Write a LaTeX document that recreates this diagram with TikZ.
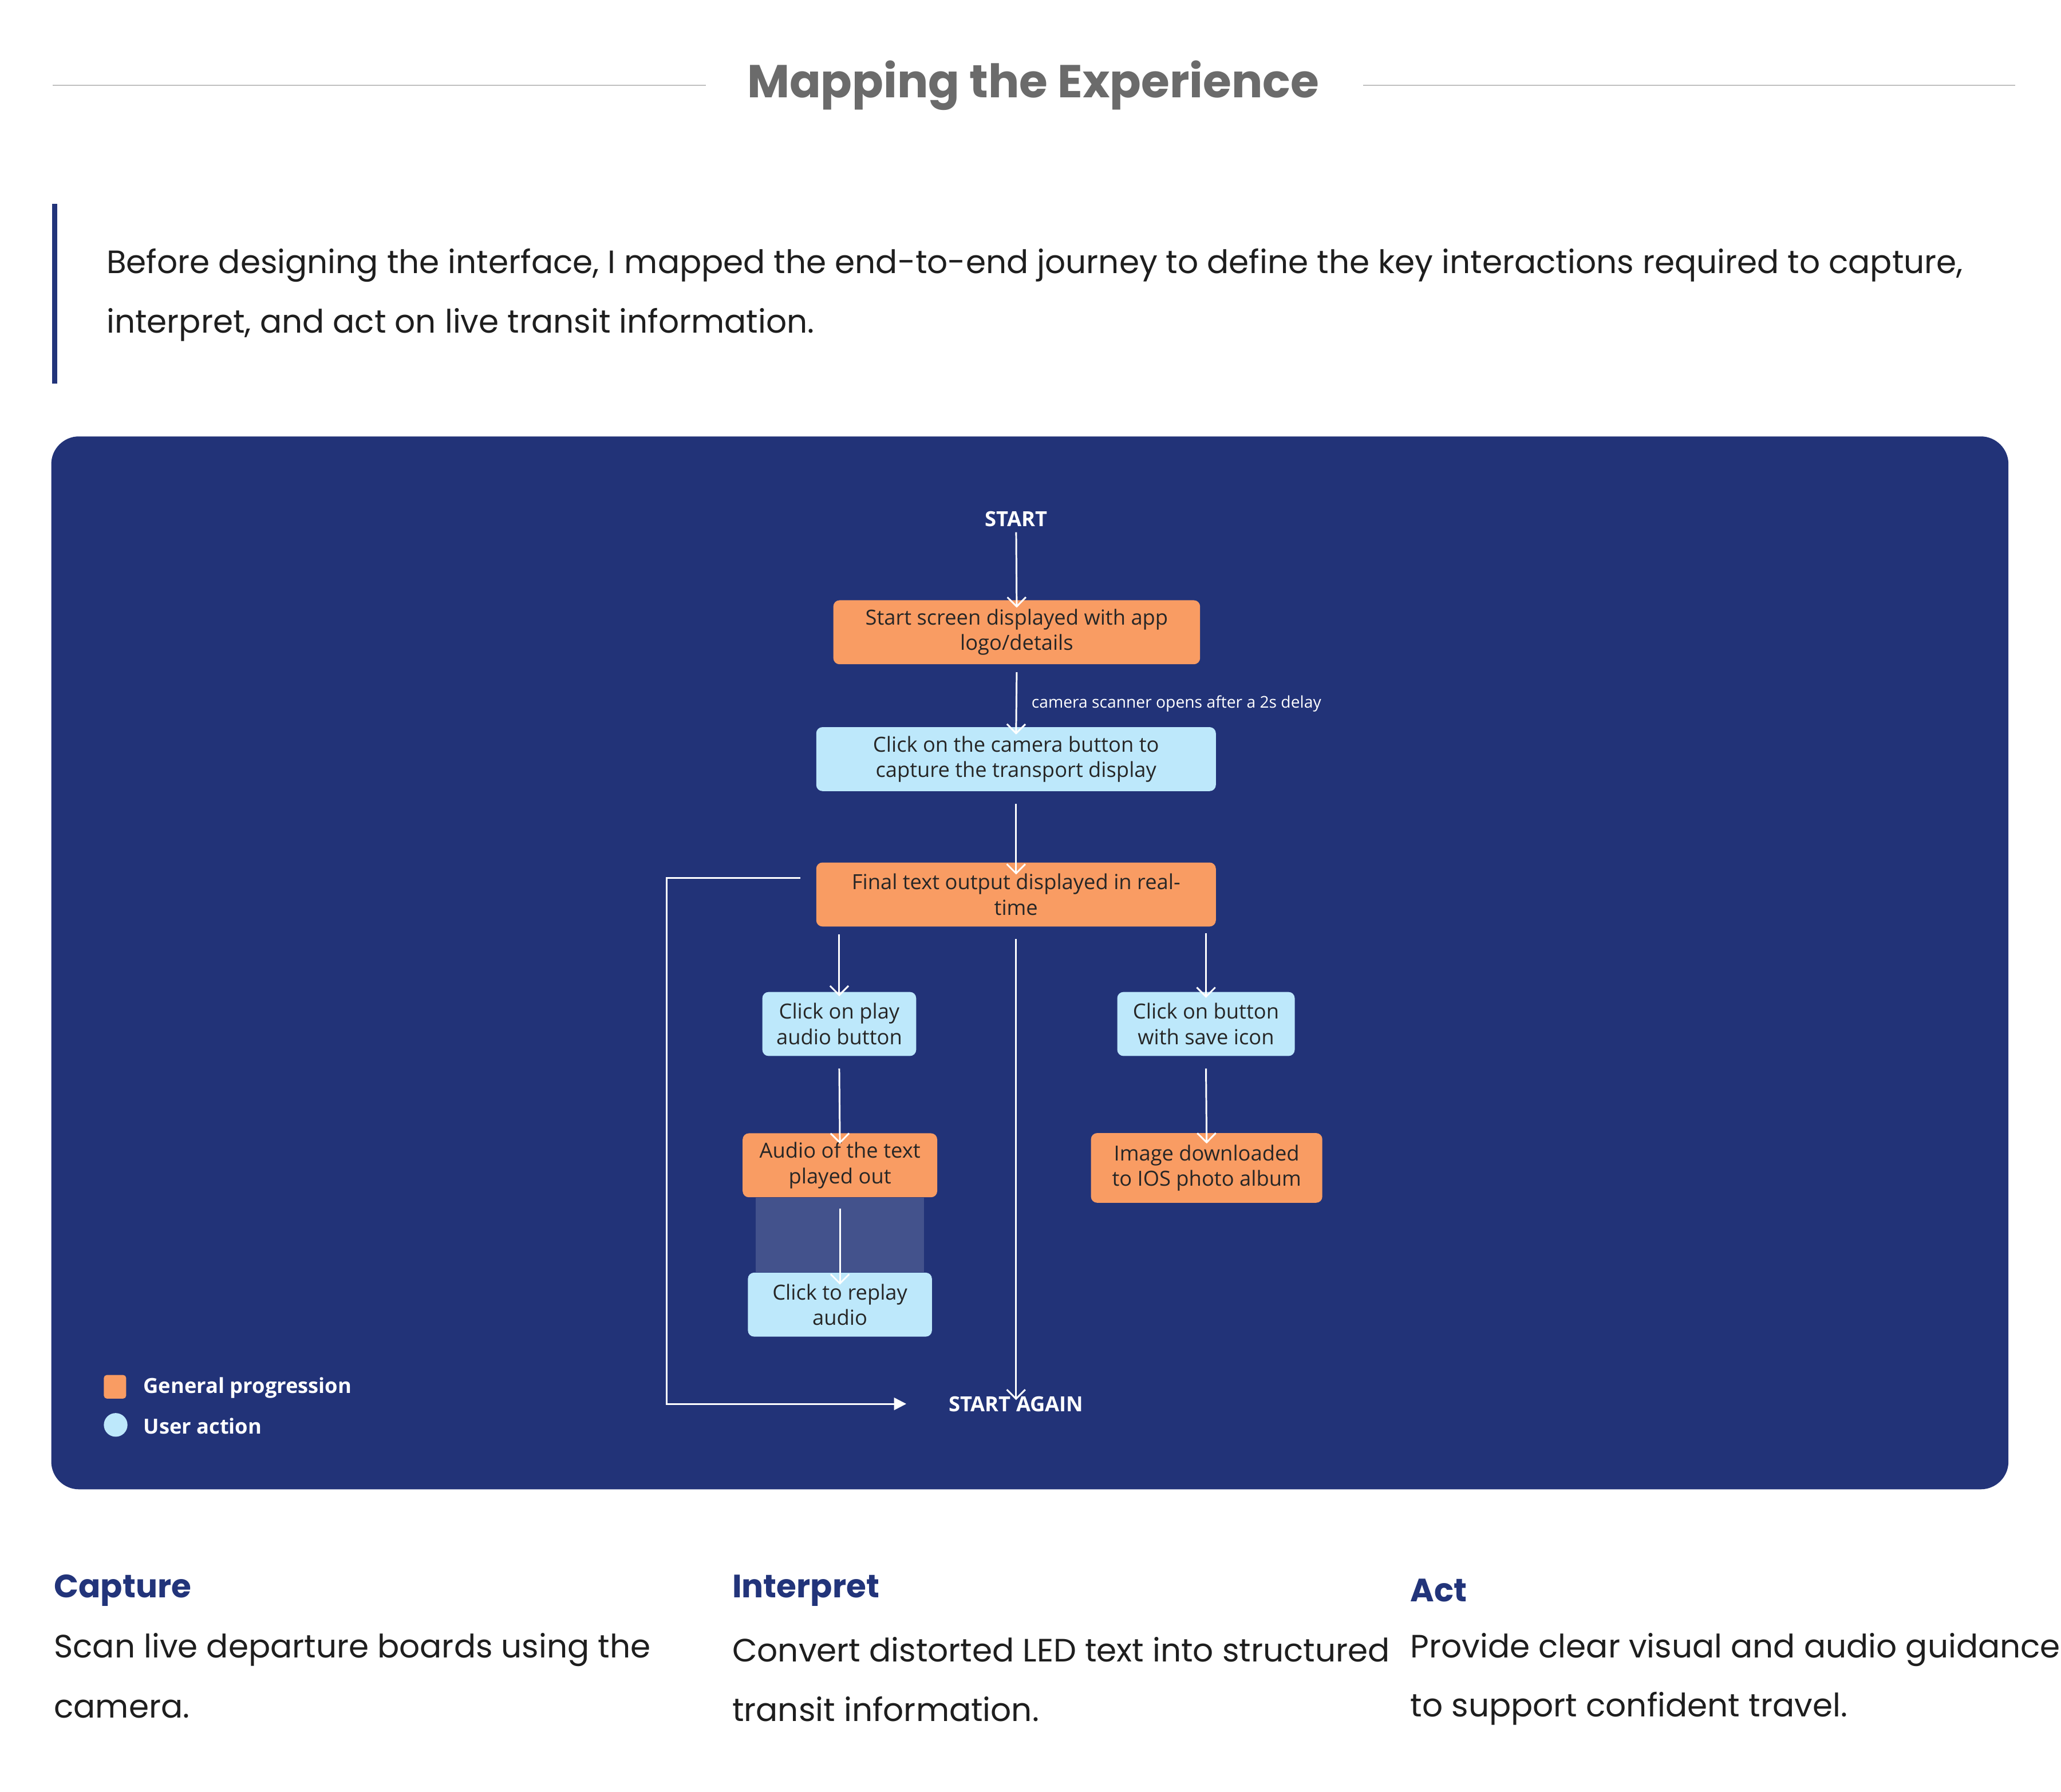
\documentclass[tikz,border=0pt]{standalone}
\usepackage{fontspec}
\setmainfont{Poppins}
\newfontfamily\flowfont{Open Sans}
\usetikzlibrary{arrows.meta,positioning}
\definecolor{navy}{HTML}{22347A}
\definecolor{panel}{HTML}{223378}
\definecolor{orng}{HTML}{F99C63}
\definecolor{sky}{HTML}{BDE8FB}
\definecolor{titlegray}{HTML}{6B6B6B}
\definecolor{bodytext}{HTML}{1E1E1E}
\tikzset{
  box/.style={rounded corners=4pt, minimum height=1.46cm, inner sep=0pt, align=center,
    font=\flowfont\fontsize{13.5}{16.5}\selectfont, text=black!85},
  progress/.style={box, fill=orng},
  useract/.style={box, fill=sky},
  flow/.style={draw=white, line width=1.1pt, -{Straight Barb[length=6pt,width=12pt]}},
  label/.style={text=white, font=\flowfont\bfseries\fontsize{13.5}{16}\selectfont},
  body/.style={anchor=west, text=bodytext, font=\fontsize{21}{26}\selectfont},
  head/.style={anchor=west, text=navy, font=\bfseries\fontsize{21}{26}\selectfont},
}
\begin{document}
\begin{tikzpicture}[x=0.03cm,y=-0.03cm]
  \useasboundingbox (0,0) rectangle (1568,1363);

  % Titel
  \node[text=titlegray, font=\bfseries\fontsize{30}{36}\selectfont] (title) at (786,65) {Mapping the Experience};
  \draw[black!25, line width=0.8pt] (40,65) -- (537,65);
  \draw[black!25, line width=0.8pt] (1037,65) -- (1533,65);

  % Einleitung
  \fill[navy] (39.5,155) rectangle (43.5,292);
  \node[body] (intro1) at (77,202) {Before designing the interface, I mapped the end-to-end journey to define the key interactions required to capture,};
  \node[body] (intro2) at (77,247) {interpret, and act on live transit information.};

  % Panel
  \fill[panel, rounded corners=18pt] (39,332) rectangle (1528,1133);
  \fill[panel!85!white] (575,911) rectangle (703,968);

  % Knoten
  \node[label] (start) at (773,395) {START};
  \node[progress, minimum width=8.37cm] (splash) at (773.5,481) {Start screen displayed with app\\logo/details};
  \node[useract, minimum width=9.12cm] (camera) at (773,577.5) {Click on the camera button to\\capture the transport display};
  \node[progress, minimum width=9.12cm] (output) at (773,680.5) {Final text output displayed in real-\\time};
  \node[useract, minimum width=3.51cm] (play) at (638.5,779) {Click on play\\audio button};
  \node[useract, minimum width=4.05cm] (save) at (917.5,779) {Click on button\\with save icon};
  \node[progress, minimum width=4.44cm] (audio) at (639,886.5) {Audio of the text\\played out};
  \node[progress, minimum width=5.28cm, minimum height=1.59cm] (album) at (918,888.5) {Image downloaded\\to IOS photo album};
  \node[useract, minimum width=4.2cm] (replay) at (639,992.5) {Click to replay\\audio};
  \node[label] (again) at (773,1068) {START AGAIN};

  % Pfeile
  \draw[flow] (start) -- ([yshift=-5pt]splash.north);
  \draw[flow] ([yshift=-5pt]splash.south) -- ([yshift=-5pt]camera.north)
    node[midway, right=6pt, text=white, font=\flowfont\fontsize{10.5}{12}\selectfont] (delay) {camera scanner opens after a 2s delay};
  \draw[flow] ([yshift=-8pt]camera.south) -- ([yshift=-8pt]output.north);
  \draw[flow] ([yshift=-5pt]output.south -| play) -- ([yshift=-3pt]play.north);
  \draw[flow] ([yshift=-4pt]output.south -| save) -- ([yshift=-4pt]save.north);
  \draw[flow] ([yshift=-8pt]output.south) -- ([yshift=-6pt]again.north);
  \draw[flow] ([yshift=-8pt]play.south) -- ([yshift=-7pt]audio.north);
  \draw[flow] ([yshift=-8pt]save.south) -- ([yshift=-7pt]album.north);
  \draw[flow] ([yshift=-7pt]audio.south) -- ([yshift=-8pt]replay.north);
  \coordinate (loopA) at (507,668);
  \coordinate (loopB) at (507,1068);
  \draw[draw=white, line width=1.1pt, -{Triangle[length=8pt,width=8pt]}]
    ([xshift=-10pt]output.west |- loopA) -- (loopA) -- (loopB) -- ([xshift=-24pt]again.west);

  % Legende
  \fill[orng, rounded corners=2pt] (79,1046) rectangle (96,1064);
  \fill[sky] (88,1084) circle (9);
  \node[label, anchor=west] (leg1) at (105,1056) {General progression};
  \node[label, anchor=west] (leg2) at (105,1085) {User action};

  % Spalten
  \node[head] (capture) at (37,1210) {Capture};
  \node[body] (cap1) at (37,1255) {Scan live departure boards using the};
  \node[body] (cap2) at (37,1300) {camera.};
  \node[head] (interpret) at (553,1210) {Interpret};
  \node[body] (int1) at (553,1255) {Convert distorted LED text into structured};
  \node[body] (int2) at (553,1300) {transit information.};
  \node[head] (act) at (1069,1210) {Act};
  \node[body] (act1) at (1069,1255) {Provide clear visual and audio guidance};
  \node[body] (act2) at (1069,1300) {to support confident travel.};
\end{tikzpicture}
\end{document}
